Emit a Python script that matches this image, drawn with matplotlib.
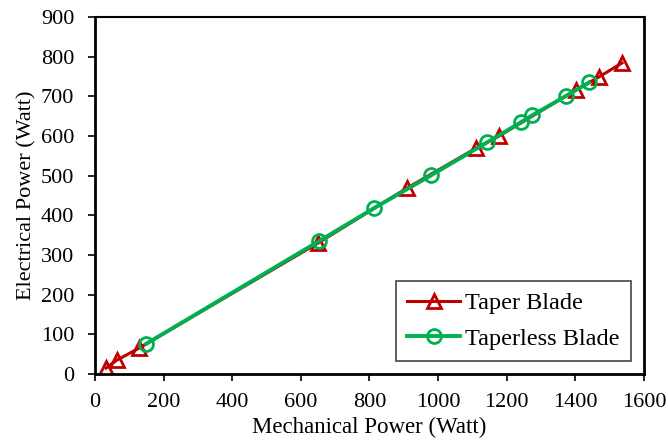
import numpy as np
import matplotlib.pyplot as plt

plt.rcParams['font.family'] = ['Liberation Serif', 'DejaVu Serif']

# Taper blade
taper_mech = [32, 64, 128, 650, 910, 1110, 1178, 1402, 1469, 1536]
taper_elec = [15, 35, 65, 330, 469, 569, 600, 716, 749, 784]

# Taperless blade
taperless_mech = [149, 653, 813, 980, 1143, 1242, 1274, 1373, 1440]
taperless_elec = [76, 335, 418, 501, 584, 635, 652, 701, 735]

red = '#C00000'
green = '#00B050'

fig = plt.figure(figsize=(6.68, 4.43), dpi=100)
ax = fig.add_axes([0.1422, 0.1558, 0.8218, 0.8058])

ax.plot(taper_mech, taper_elec, color=red, lw=2.2, marker='^', ms=10,
        mfc='none', mec=red, mew=2, label='Taper Blade')
ax.plot(taperless_mech, taperless_elec, color=green, lw=2.8, marker='o', ms=10,
        mfc='none', mec=green, mew=2, label='Taperless Blade')

ax.set_xlim(0, 1600)
ax.set_ylim(0, 900)
ax.set_xticks(np.arange(0, 1601, 200))
ax.set_yticks(np.arange(0, 901, 100))
ax.tick_params(direction='out', length=5, width=1.2, labelsize=16)
ax.tick_params(axis='x', pad=9)
ax.tick_params(axis='y', pad=10)
for s in ax.spines.values():
    s.set_linewidth(2)
ax.spines['top'].set_linewidth(1.5)

ax.set_xlabel('Mechanical Power (Watt)', fontsize=16.5, labelpad=3)
ax.set_ylabel('Electrical Power (Watt)', fontsize=16, labelpad=3)

leg = ax.legend(loc='lower right', fontsize=17.5, fancybox=False, framealpha=1,
                edgecolor='#444444', handlelength=2.2, handletextpad=0.2,
                borderaxespad=0.55, labelspacing=0.55, borderpad=0.45)
leg.get_frame().set_linewidth(1.2)

plt.savefig('out.png', dpi=100)
